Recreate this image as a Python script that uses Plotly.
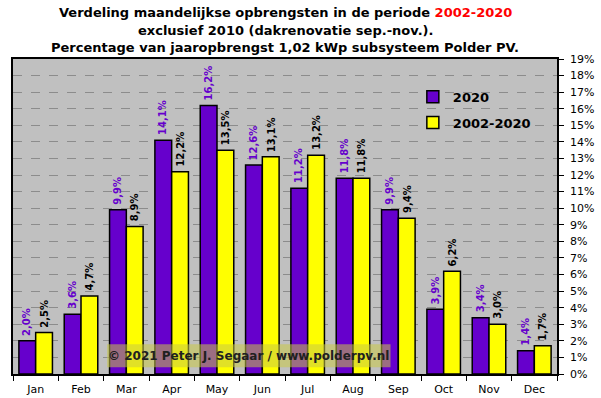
import plotly.graph_objects as go

months = ["Jan", "Feb", "Mar", "Apr", "May", "Jun", "Jul", "Aug", "Sep", "Oct", "Nov", "Dec"]
y2020 = [2.0, 3.6, 9.9, 14.1, 16.2, 12.6, 11.2, 11.8, 9.9, 3.9, 3.4, 1.4]
yavg = [2.5, 4.7, 8.9, 12.2, 13.5, 13.1, 13.2, 11.8, 9.4, 6.2, 3.0, 1.7]
yticks = list(range(0, 20))
title_lines = [
    "Verdeling maandelijkse opbrengsten in de periode <span style='color:#FF0000'>2002-2020</span>",
    "exclusief 2010 (dakrenovatie sep.-nov.).",
    "Percentage van jaaropbrengst 1,02 kWp subsysteem Polder PV.",
]

def lab(v):
    return f"{v:.1f}%".replace(".", ",")

FONT = "DejaVu Sans, Verdana, sans-serif"
PURPLE = "#6600CC"

fig = go.Figure()
fig.add_trace(go.Bar(
    x=months, y=y2020, name="2020", legendgroup="a",
    marker=dict(color=PURPLE, line=dict(color="black", width=1.5)),
))
fig.add_trace(go.Bar(
    x=months, y=yavg, name="2002-2020", legendgroup="b",
    marker=dict(color="#FFFF00", line=dict(color="black", width=1.5)),
))

# rotated value labels above bars
for m, v in zip(months, y2020):
    fig.add_annotation(x=m, y=v, xref="x", yref="y", text=lab(v), showarrow=False,
                       textangle=-90, xanchor="center", yanchor="bottom", xshift=-8.5, yshift=3,
                       font=dict(family=FONT, size=10, color=PURPLE, weight="bold"))
for m, v in zip(months, yavg):
    fig.add_annotation(x=m, y=v, xref="x", yref="y", text=lab(v), showarrow=False,
                       textangle=-90, xanchor="center", yanchor="bottom", xshift=8.5, yshift=3,
                       font=dict(family=FONT, size=10, color="black", weight="bold"))

fig.add_shape(type="rect", xref="paper", yref="y", x0=0.173, x1=0.694, y0=0.4, y1=1.8,
              fillcolor="rgba(200,200,70,0.55)", line=dict(width=0), layer="above")
fig.add_annotation(xref="paper", yref="y", x=0.433, y=1.1, showarrow=False,
                   text="© 2021 Peter J. Segaar / www.polderpv.nl",
                   font=dict(family=FONT, size=12, color="#202020", weight="bold"))

for line, yp in zip(title_lines, [1.149, 1.092, 1.038]):
    fig.add_annotation(xref="paper", yref="paper", x=0.5, y=yp, yanchor="middle",
                       showarrow=False, text=line,
                       font=dict(family=FONT, size=13, color="black", weight="bold"))

fig.update_layout(
    width=601, height=398,
    margin=dict(l=13, r=44, t=59, b=24),
    paper_bgcolor="white", plot_bgcolor="#C0C0C0",
    barmode="group", bargap=0.26, bargroupgap=0,
    showlegend=True,
    legend=dict(x=0.735, y=0.928, xanchor="left", yanchor="top", bgcolor="rgba(0,0,0,0)",
                traceorder="grouped", tracegroupgap=6,
                font=dict(family=FONT, size=13, color="black", weight="bold"),
                itemwidth=30),
    font=dict(family=FONT, size=11, color="black"),
)
fig.update_xaxes(type="category", showline=True, linecolor="black", linewidth=1.5, mirror=True,
                 ticks="outside", tickson="boundaries", ticklen=5, tickcolor="black",
                 ticklabelstandoff=4,
                 tickfont=dict(family=FONT, size=11), showgrid=False, automargin=False)
fig.update_yaxes(side="right", range=[0, 19], tickvals=yticks, ticktext=[f"{t}%" for t in yticks],
                 showline=True, linecolor="black", linewidth=1.5, mirror=True,
                 ticks="outside", ticklen=5, tickcolor="black", ticklabelstandoff=4,
                 tickfont=dict(family=FONT, size=11), automargin=False,
                 showgrid=True, gridcolor="#8C8C8C", griddash="dash", gridwidth=1, zeroline=False)

fig.write_html("out.html", config={"displayModeBar": False},
               post_script="document.body.style.margin='0';document.body.style.overflow='hidden';")
